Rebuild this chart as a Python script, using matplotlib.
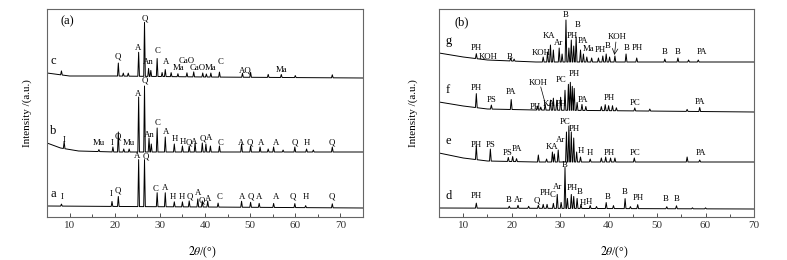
import numpy as np
import matplotlib
matplotlib.use("Agg")
import matplotlib.pyplot as plt
from matplotlib.ticker import MultipleLocator

plt.rcParams['font.family'] = ['Liberation Serif', 'DejaVu Serif']
plt.rcParams['mathtext.fontset'] = 'stix'

# ---------------- panel (a) ----------------
# baselines: (2theta, intensity)
a_base_x = [5, 75]
a_base_y = [11, 9]
a_peak_pos = [8.2, 19.4, 20.8, 25.3, 26.6, 29.4, 31.2, 33.2, 35.0, 36.5, 38.4, 39.4, 40.6, 42.9,
              48.1, 50.1, 52.0, 55.2, 59.9, 62.3, 68.2]
a_peak_h = [2, 5, 10, 47, 47, 14, 14, 5, 5, 6, 8, 6, 6, 4, 6, 5, 4, 4, 4, 2, 4]
a_labels = [("I", 8.4, 20), ("I", 19.2, 23), ("Q", 20.6, 27), ("A", 25.0, 61), ("Q", 26.8, 61),
            ("C", 29.1, 28), ("A", 31.1, 29), ("H", 32.9, 20), ("H", 34.9, 20), ("Q", 36.7, 20),
            ("A", 38.4, 24), ("Q", 39.3, 17), ("A", 40.7, 18), ("C", 43.2, 20), ("A", 48.2, 20),
            ("Q", 50.2, 20), ("A", 52.0, 20), ("A", 55.8, 20), ("Q", 59.5, 20), ("H", 62.3, 20),
            ("Q", 68.0, 20)]

b_base_x = [5, 8, 12, 20, 75]
b_base_y = [74, 69, 66, 65, 65]
b_peak_pos = [8.8, 16.5, 19.6, 20.8, 22.0, 23.2, 25.3, 26.6, 27.6, 28.1, 29.4, 31.2, 33.2, 35.0,
              36.5, 37.8, 39.4, 40.2, 41.2, 43.2, 48.1, 50.1, 52.2, 54.0, 55.2, 57.3, 59.9, 62.5,
              64.0, 68.2]
b_peak_h = [7, 2, 5, 20, 3, 3, 55, 66, 14, 8, 24, 15, 8, 6, 6, 9, 9, 8, 6, 6, 8, 6, 5, 3, 5, 2,
            5, 3, 2, 5]
b_labels = [("I", 8.8, 77), ("Mu", 16.5, 74), ("I", 19.4, 74), ("Q", 20.6, 80), ("Mu", 23.2, 74),
            ("A", 25.2, 123), ("Q", 26.6, 136), ("An", 27.6, 82), ("C", 29.4, 94), ("A", 31.3, 85),
            ("H", 33.3, 78), ("H", 35.0, 75), ("Q", 36.4, 75), ("A", 37.6, 75), ("Q", 39.6, 79),
            ("A", 41.0, 79), ("C", 43.5, 74), ("A", 48.1, 74), ("Q", 50.0, 74), ("A", 52.4, 74),
            ("A", 55.8, 74), ("Q", 59.8, 74), ("H", 62.5, 74), ("Q", 68.2, 74)]

c_base_x = [5, 10, 20, 40, 75]
c_base_y = [144, 141, 141, 140, 139]
c_peak_pos = [8.2, 20.8, 21.9, 23.0, 25.3, 26.6, 27.5, 28.0, 29.4, 30.5, 31.2, 32.5, 34.0, 36.0,
              37.5, 39.5, 40.3, 41.3, 43.2, 48.3, 50.1, 54.0, 56.9, 60.0, 68.2]
c_peak_h = [4, 13, 3, 3, 24, 54, 8, 6, 18, 4, 7, 4, 3, 4, 5, 4, 3, 4, 5, 4, 5, 3, 3, 2, 3]
c_labels = [("Q", 20.6, 161), ("A", 25.2, 169), ("Q", 26.6, 198), ("An", 27.4, 155),
            ("C", 29.6, 166), ("A", 31.3, 155), ("Ma", 34.2, 149), ("CaO", 35.9, 156),
            ("CaO", 38.3, 149), ("Ma", 41.3, 149), ("C", 43.5, 155), ("AQ", 49.0, 147),
            ("Ma", 56.9, 147)]

# ---------------- panel (b) ----------------
d_base_x = [5, 70]
d_base_y = [9, 8]
d_peak_pos = [12.7, 19.5, 21.3, 23.5, 25.5, 26.5, 27.3, 28.6, 29.4, 30.2, 31.0, 31.5, 32.3, 32.8,
              33.5, 34.3, 36.2, 37.5, 39.5, 41.0, 43.4, 44.5, 46.0, 52.0, 54.0, 57.3, 60.0]
d_peak_h = [5, 2, 3, 2, 3, 4, 4, 5, 14, 6, 41, 10, 14, 12, 10, 4, 3, 2, 6, 3, 10, 2, 4, 2, 3, 1, 1]
d_labels = [("PH", 12.7, 21), ("B", 19.3, 17), ("Ar", 21.5, 17), ("Q", 25.1, 17), ("PH", 27.0, 24),
            ("C", 28.5, 22), ("Ar", 29.4, 30), ("B", 31.0, 52), ("PH", 32.5, 29), ("B", 34.0, 25),
            ("H", 34.6, 14), ("H", 36.0, 15), ("B", 39.7, 20), ("B", 43.4, 25), ("PH", 46.1, 19),
            ("B", 51.8, 18), ("B", 54.1, 18)]

e_base_x = [5, 10, 15, 25, 70]
e_base_y = [64, 59, 56, 55, 55]
e_peak_pos = [12.7, 15.6, 19.3, 20.2, 21.0, 25.5, 27.2, 28.4, 28.8, 29.6, 31.3, 31.8, 32.3, 32.8,
              33.4, 34.2, 36.2, 38.5, 39.4, 40.4, 41.3, 45.3, 56.2, 58.8]
e_peak_h = [14, 12, 4, 5, 3, 7, 3, 10, 8, 12, 30, 36, 30, 24, 10, 5, 3, 4, 5, 4, 4, 4, 5, 2]
e_labels = [("PH", 12.7, 72), ("PS", 15.6, 72), ("PS", 19.1, 64), ("PA", 21.0, 68), ("KA", 28.3, 70),
            ("Ar", 30.0, 77), ("PC", 31.0, 95), ("PH", 33.0, 88), ("H", 34.2, 66), ("H", 36.2, 64),
            ("PH", 40.1, 64), ("PC", 45.4, 64), ("PA", 59.1, 64)]

f_base_x = [5, 10, 15, 25, 70]
f_base_y = [115, 111, 108, 107, 105]
f_peak_pos = [12.7, 15.8, 19.9, 25.3, 26.0, 26.9, 28.0, 28.6, 29.3, 30.1, 31.0, 31.7, 32.1, 32.5,
              32.9, 33.5, 34.5, 35.3, 38.5, 39.3, 40.0, 40.8, 41.6, 45.4, 48.5, 56.2, 58.8]
f_peak_h = [14, 4, 10, 4, 3, 6, 10, 12, 10, 13, 20, 26, 28, 24, 22, 8, 6, 4, 4, 6, 5, 5, 3, 3, 2,
            2, 4]
f_labels = [("PH", 12.7, 129), ("PS", 15.8, 117), ("PA", 19.9, 125), ("PH", 24.9, 110),
            ("KOH", 25.4, 134), ("KA", 27.8, 113), ("PH", 30.2, 113), ("PC", 30.2, 137),
            ("PH", 32.9, 143), ("PA", 34.7, 117), ("PH", 40.1, 119), ("PC", 45.4, 114),
            ("PA", 58.9, 115)]

g_base_x = [5, 10, 15, 25, 70]
g_base_y = [164, 160, 157, 155, 155]
g_peak_pos = [12.7, 19.8, 20.5, 26.5, 27.4, 28.0, 28.6, 29.8, 30.4, 31.2, 31.8, 32.3, 32.8, 33.3,
              34.2, 34.8, 35.5, 36.5, 37.9, 38.8, 39.5, 40.2, 41.3, 43.6, 45.8, 51.6, 54.3, 56.5,
              58.5]
g_peak_h = [5, 3, 2, 5, 10, 17, 12, 14, 8, 42, 14, 22, 16, 25, 12, 8, 5, 4, 4, 6, 8, 5, 6, 8, 4,
            3, 4, 2, 2]
g_labels = [("PH", 12.7, 169), ("KOH", 15.2, 160), ("B", 19.6, 160), ("KOH", 26.0, 164),
            ("KA", 27.8, 181), ("Ar", 29.7, 174), ("B", 31.2, 202), ("PH", 32.5, 181),
            ("B", 33.5, 192), ("PA", 34.7, 176), ("Ma", 35.8, 168), ("PH", 38.2, 167),
            ("B", 39.8, 171), ("KOH", 41.7, 180), ("B", 43.8, 169), ("PH", 45.9, 169),
            ("B", 51.6, 165), ("B", 54.3, 165), ("PA", 59.2, 165)]

HALF_W = 0.18


def trace(base_x, base_y, pos, h):
    pos = np.asarray(pos, float)
    h = np.asarray(h, float)
    xs, ys = [], []
    for bx, by in zip(base_x, base_y):
        if np.all(np.abs(pos - bx) > HALF_W):
            xs.append(bx)
            ys.append(by)
    for p, hh in zip(pos, h):
        for xx, add in ((p - HALF_W, 0), (p, hh), (p + HALF_W, 0)):
            xs.append(xx)
            ys.append(np.interp(xx, base_x, base_y) + add)
    order = np.argsort(xs)
    return np.asarray(xs)[order], np.asarray(ys)[order]


def style_axes(ax, xmax, xlabel_x):
    ax.set_xlim(5, xmax)
    ax.set_ylim(0, 208)
    ax.set_yticks([])
    ax.xaxis.set_major_locator(MultipleLocator(10))
    ax.xaxis.set_minor_locator(MultipleLocator(5))
    ax.tick_params(axis='x', which='both', direction='in', labelsize=8, pad=3, colors='#333333')
    ax.tick_params(axis='x', which='major', length=3, width=0.6)
    ax.tick_params(axis='x', which='minor', length=2, width=0.6)
    for s in ax.spines.values():
        s.set_color('#666666')
        s.set_linewidth(0.8)
    ax.set_ylabel("Intensity /(a.u.)", fontsize=8)
    ax.set_xlabel(r"$2\theta$/(°)", fontsize=8.5)
    ax.xaxis.set_label_coords(xlabel_x, -0.135)


def draw(ax, base_x, base_y, pos, h, labels, name, name_x):
    x, y = trace(base_x, base_y, pos, h)
    ax.plot(x, y, color='black', lw=0.7)
    for txt, lx, ly in labels:
        ax.text(lx, ly, txt, fontsize=6.3, ha='center', va='center')
    ax.text(name_x, base_y[0] + 6, name, fontsize=9, ha='center', va='bottom')


fig = plt.figure(figsize=(7.87, 2.6), dpi=100)
ax1 = fig.add_axes([47 / 787, 43 / 260, 316 / 787, 208 / 260])
ax2 = fig.add_axes([439 / 787, 43 / 260, 315 / 787, 208 / 260])

draw(ax1, a_base_x, a_base_y, a_peak_pos, a_peak_h, a_labels, "a", 6.4)
draw(ax1, b_base_x, b_base_y, b_peak_pos, b_peak_h, b_labels, "b", 6.4)
draw(ax1, c_base_x, c_base_y, c_peak_pos, c_peak_h, c_labels, "c", 6.4)
ax1.text(9.5, 196, "(a)", fontsize=9, ha='center', va='center')
style_axes(ax1, 75, 0.49)
ax1.yaxis.set_label_coords(-0.047, 0.5)

draw(ax2, d_base_x, d_base_y, d_peak_pos, d_peak_h, d_labels, "d", 6.9)
draw(ax2, e_base_x, e_base_y, e_peak_pos, e_peak_h, e_labels, "e", 6.9)
draw(ax2, f_base_x, f_base_y, f_peak_pos, f_peak_h, f_labels, "f", 6.9)
draw(ax2, g_base_x, g_base_y, g_peak_pos, g_peak_h, g_labels, "g", 6.9)
ax2.text(9.6, 195, "(b)", fontsize=9, ha='center', va='center')
# arrows / leader lines
ax2.annotate("", xy=(41.2, 162), xytext=(41.5, 175),
             arrowprops=dict(arrowstyle='->', lw=0.5, color='black', shrinkA=0, shrinkB=0))
ax2.plot([26.0, 26.9], [130, 114], color='black', lw=0.5)
style_axes(ax2, 70, 0.556)
ax2.yaxis.set_label_coords(-0.067, 0.5)

fig.savefig("out.png", dpi=100)
